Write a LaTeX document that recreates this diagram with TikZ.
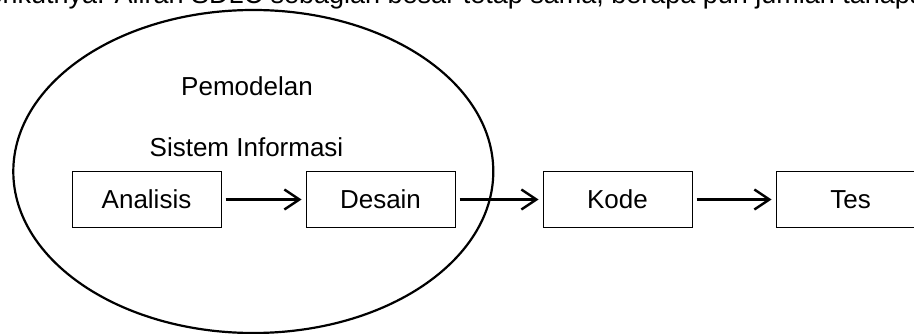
\documentclass[tikz,border=0pt]{standalone}
\usepackage{fontspec}
\setmainfont{Liberation Sans}
\usetikzlibrary{arrows.meta}
\begin{document}
\begin{tikzpicture}[x=1pt,y=-1pt,
  stagebox/.style={draw=black, line width=1pt, minimum width=149pt, minimum height=56pt, inner sep=0pt, font=\fontsize{26}{30}\selectfont},
  flowarrow/.style={line width=2.4pt, -{Straight Barb[length=15pt,width=20pt,line width=2.4pt]}, shorten <=4pt, shorten >=4pt},
  plaintext/.style={inner sep=0pt, font=\fontsize{26}{30}\selectfont}]
\useasboundingbox (0,0) rectangle (914,334);
\node[plaintext, font=\fontsize{27}{30}\selectfont, anchor=base west] (top) at (-27.6,4) {berikutnya. Aliran SDLC sebagian besar tetap sama, berapa pun jumlah tahapan};
\draw[line width=2.2pt] (253.3,171.5) ellipse [x radius=240, y radius=161.5];
\node[plaintext, anchor=base] (pem) at (247,96) {Pemodelan};
\node[plaintext, anchor=base] (sis) at (246.5,157) {Sistem Informasi};
\node[stagebox] (ana) at (146.5,199.5) {Analisis\hspace{17pt}};
\node[stagebox] (des) at (380.5,199.5) {Desain};
\node[stagebox] (kod) at (617.5,199.5) {Kode};
\node[stagebox] (tes) at (850.5,199.5) {Tes};
\draw[flowarrow] (ana) -- (des);
\draw[flowarrow] (des) -- (kod);
\draw[flowarrow] (kod) -- (tes);
\end{tikzpicture}
\end{document}
